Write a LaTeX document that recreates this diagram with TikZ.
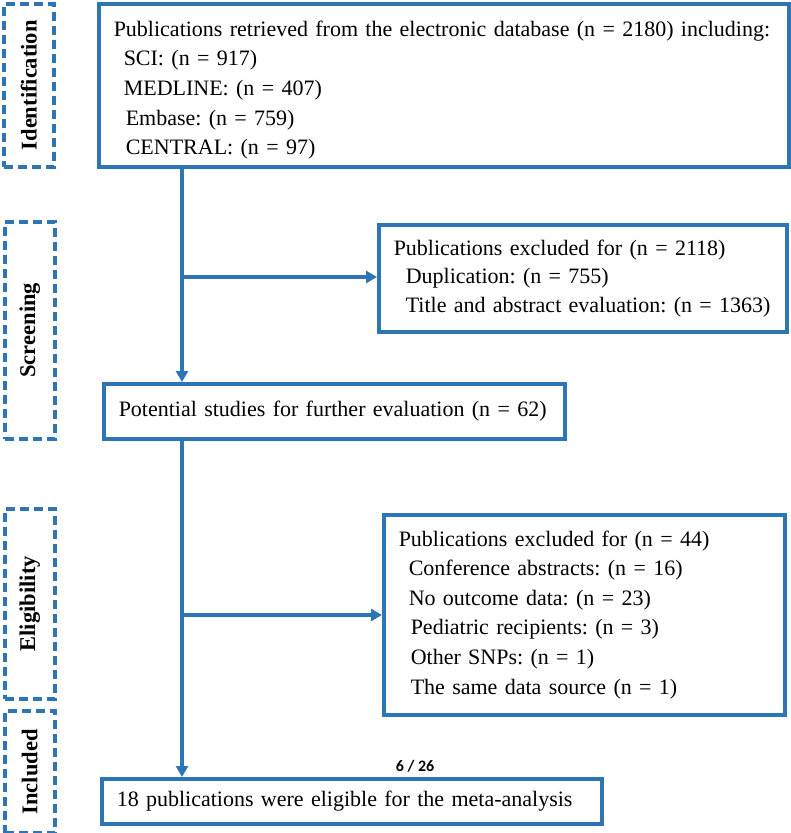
\documentclass[tikz,border=0pt]{standalone}
\usepackage{fontspec}
\setmainfont{Liberation Serif}
\newfontfamily\pagefont{Carlito}
\usetikzlibrary{arrows.meta}
\definecolor{pblue}{RGB}{46,117,182}
\tikzset{
  solidbox/.style={draw=pblue, line width=3.5pt, align=left, anchor=north west, inner xsep=15pt, inner ysep=0pt, font=\fontsize{22}{29.6}\selectfont\frenchspacing},
  phasebox/.style={draw=pblue, line width=3.5pt, dash pattern=on 9pt off 5pt, anchor=north west, minimum width=50pt, inner sep=0pt},
  phaselabel/.style={rotate=90, font=\fontsize{22.5}{26}\selectfont\bfseries},
  arr/.style={draw=pblue, line width=3.5pt, -{Triangle[length=11pt,width=12pt]}}
}
\begin{document}
\begin{tikzpicture}[x=1pt,y=1pt]
\useasboundingbox (0,0) rectangle (791,-833);
% phase boxes
\node[phasebox, minimum height=163pt] (pid) at (2,-2) {};
\node[phaselabel] (lid) at (pid.center) {Identification};
\node[phasebox, minimum height=217pt] (psc) at (3,-220) {};
\node[phaselabel] (lsc) at (psc.center) {Screening};
\node[phasebox, minimum height=190pt] (pel) at (3,-507) {};
\node[phaselabel] (lel) at (pel.center) {Eligibility};
\node[phasebox, minimum height=122pt] (pin) at (3,-709) {};
\node[phaselabel] (lin) at (pin.center) {Included};
% main boxes
\node[solidbox, minimum width=690pt, minimum height=163pt, text width=660pt] (b1) at (97,-2)
  {\rule{0pt}{25pt}Publications retrieved from the electronic database (n = 2180) including:\\
   \hspace*{10pt}SCI: (n = 917)\\
   \hspace*{10pt}MEDLINE: (n = 407)\\
   \hspace*{12pt}Embase: (n = 759)\\
   \hspace*{12pt}CENTRAL: (n = 97)};
\node[solidbox, minimum width=408pt, minimum height=107pt, text width=378pt,
      font=\fontsize{22}{28.6}\selectfont\frenchspacing] (e1) at (377,-223)
  {Publications excluded for (n = 2118)\\
   \hspace*{12pt}Duplication: (n = 755)\\
   \hspace*{12pt}Title and abstract evaluation: (n = 1363)};
\node[solidbox, minimum width=461pt, minimum height=55pt, text width=431pt] (b2) at (102,-382)
  {\mbox{Potential studies for further evaluation (n = 62)}};
\node[solidbox, minimum width=401pt, minimum height=200pt, text width=371pt] (e2) at (382,-513)
  {Publications excluded for (n = 44)\\
   \hspace*{10pt}Conference abstracts: (n = 16)\\
   \hspace*{10pt}No outcome data: (n = 23)\\
   \hspace*{12pt}Pediatric recipients: (n = 3)\\
   \hspace*{12pt}Other SNPs: (n = 1)\\
   \hspace*{12pt}The same data source (n = 1)};
\node[solidbox, minimum width=500pt, minimum height=45pt, text width=470pt] (b3) at (100,-777)
  {\mbox{18 publications were eligible for the meta-analysis}};
\node[font=\pagefont\bfseries\fontsize{16}{18}\selectfont] (pg) at (415,-766) {6 / 26};
% connectors
\coordinate (j1) at (182,-277);
\coordinate (j2) at (182,-615);
\draw[arr] (b1.south -| j1) -- (b2.north -| j1);
\draw[arr] (j1) -- (j1 -| e1.west);
\draw[arr] (b2.south -| j2) -- (b3.north -| j2);
\draw[arr] (j2) -- (j2 -| e2.west);
\end{tikzpicture}
\end{document}
